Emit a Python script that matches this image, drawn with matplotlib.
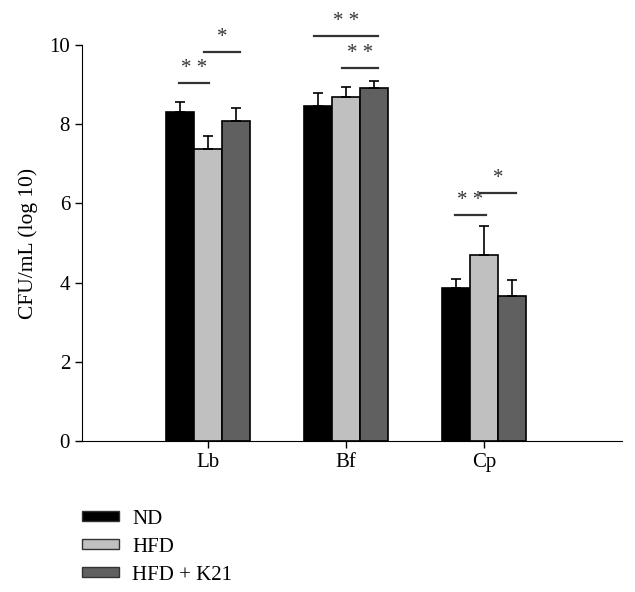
import numpy as np
import matplotlib
matplotlib.use('Agg')
import matplotlib.pyplot as plt
from matplotlib.patches import Patch

plt.rcParams['font.family'] = ['Liberation Serif', 'DejaVu Serif']
plt.rcParams['font.size'] = 15

# Data
bacteria = ['Lb', 'Bf', 'Cp']
groups = ['ND', 'HFD', 'HFD + K21']
colors = ['#000000', '#c0c0c0', '#606060']
nd_mean = [8.30, 8.46, 3.86]
nd_err = [0.25, 0.32, 0.22]
hfd_mean = [7.37, 8.68, 4.70]
hfd_err = [0.34, 0.25, 0.73]
k21_mean = [8.08, 8.92, 3.66]
k21_err = [0.33, 0.17, 0.40]

# significance brackets: group index, bar from, bar to, y level, label
sig_group = [0, 0, 1, 1, 2, 2]
sig_from = [0, 1, 0, 1, 0, 1]
sig_to = [1, 2, 2, 2, 1, 2]
sig_y = [9.03, 9.82, 10.23, 9.42, 5.70, 6.26]
sig_text = ['* *', '*', '* *', '* *', '* *', '*']

fig = plt.figure(figsize=(6.35, 5.92), dpi=100)
ax = fig.add_axes([0.129, 0.255, 0.851, 0.669])

x = np.arange(len(bacteria))
w = 0.203
means = [nd_mean, hfd_mean, k21_mean]
errs = [nd_err, hfd_err, k21_err]
for i in range(3):
    pos = x + (i - 1) * w
    ax.bar(pos, means[i], w, color=colors[i], edgecolor='black', linewidth=1.2, zorder=2)
    ax.errorbar(pos, means[i], yerr=[np.zeros(3), errs[i]], fmt='none', ecolor='black',
                elinewidth=1.2, capsize=3.8, capthick=1.2, zorder=3)

for g, a, b, yv, t in zip(sig_group, sig_from, sig_to, sig_y, sig_text):
    x0 = x[g] + (a - 1) * w - 0.03
    x1 = x[g] + (b - 1) * w + 0.03
    if a == 0 and b == 1:
        x0 += 0.02
        x1 -= 0.02
    ax.plot([x0, x1], [yv, yv], color='#333333', linewidth=1.6, clip_on=False)
    ax.text((x0 + x1) / 2, yv + 0.13, t, ha='center', va='bottom', fontsize=15,
            color='#333333', clip_on=False)

ax.set_xlim(-0.913, 3.0)
ax.set_ylim(0, 10)
ax.set_yticks([0, 2, 4, 6, 8, 10])
ax.set_xticks(x)
ax.set_xticklabels(bacteria)
ax.set_ylabel('CFU/mL (log 10)', fontsize=15.5, labelpad=8)
ax.spines['top'].set_visible(False)
ax.spines['right'].set_visible(False)
ax.tick_params(axis='both', labelsize=15, length=5, width=1)

handles = [Patch(facecolor=c, edgecolor='#333333', linewidth=1) for c in colors]
fig.legend(handles, groups, loc='upper left', bbox_to_anchor=(0.129, 0.139), frameon=False,
           fontsize=15, handlelength=1.78, handleheight=0.34, handletextpad=0.62,
           labelspacing=0.43, borderaxespad=0, borderpad=0)

fig.savefig('out.png', dpi=100)
